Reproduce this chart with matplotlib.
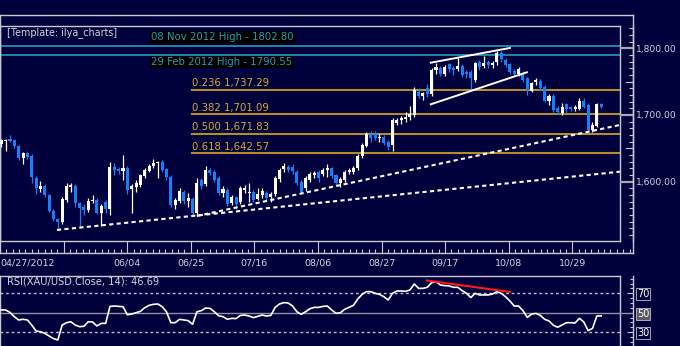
import matplotlib
matplotlib.use('Agg')
import matplotlib.pyplot as plt
import numpy as np

# Velas diarias XAU/USD, 27/04/2012 - 07/11/2012 (indice de barra = dia habil)
apertura = [1656, 1661, 1664, 1662, 1653.5, 1635, 1642.5, 1638.5, 1606, 1588.5,
            1593.5, 1580, 1556.5, 1544, 1539.5, 1572.5, 1592.5, 1593.5, 1568.5, 1562,
            1557.5, 1571, 1572.5, 1553.5, 1569, 1558.5, 1622.5, 1619, 1616.5, 1620,
            1588.5, 1591.5, 1595, 1609, 1616.5, 1623.5, 1627.5, 1629, 1618.5, 1607.5,
            1565, 1571, 1585, 1571.5, 1574, 1552.5, 1602, 1596.5, 1617.5, 1615,
            1606, 1582.5, 1587.5, 1567.5, 1577.5, 1570, 1587.5, 1582.5, 1585, 1574,
            1580, 1583.5, 1577.5, 1581.5, 1603.5, 1618.5, 1621.5, 1622.5, 1615, 1600,
            1590, 1602.5, 1610, 1615, 1611, 1617.5, 1620, 1610, 1597.5, 1602.5,
            1614, 1614, 1620, 1638, 1654, 1671, 1672.5, 1665, 1667.5, 1660,
            1655, 1687.5, 1692, 1694, 1697, 1700, 1735, 1728, 1740, 1731,
            1767.5, 1771, 1761, 1776, 1771, 1769, 1774, 1765, 1765, 1752.5,
            1780, 1773, 1779, 1775, 1779, 1792.5, 1782.5, 1776, 1766, 1761,
            1762.5, 1755, 1736, 1749, 1751, 1742.5, 1721, 1728.5, 1710, 1702.5,
            1716, 1712.5, 1709, 1709, 1721, 1715, 1677.5, 1684, 1716]
maximo = [1664, 1664, 1670, 1663, 1655, 1645, 1645, 1641, 1608, 1601,
          1597, 1582, 1559, 1546, 1577.5, 1597.5, 1598.5, 1596, 1570, 1566,
          1575, 1580, 1575, 1566, 1572, 1630, 1627.5, 1622, 1640, 1623,
          1596, 1602, 1612, 1620, 1627, 1633.5, 1631, 1632, 1620, 1610,
          1575, 1590, 1587, 1582.5, 1577, 1605, 1605, 1623.5, 1620, 1618,
          1608, 1593.5, 1590, 1580, 1579, 1593, 1595, 1597.5, 1587, 1590,
          1590, 1586, 1585, 1608, 1620, 1628.5, 1625, 1626, 1618, 1603,
          1608, 1614, 1616, 1617, 1620, 1626, 1622, 1612, 1607, 1617,
          1620, 1623, 1642, 1658, 1674, 1676, 1676, 1672, 1670, 1662,
          1695, 1695, 1699, 1704, 1714, 1742, 1740, 1735, 1746, 1771,
          1778, 1774, 1775, 1778, 1773, 1786, 1777, 1768, 1767, 1780,
          1783, 1789, 1782, 1781, 1796, 1795.5, 1785, 1778, 1769, 1772,
          1766, 1757, 1750, 1755, 1754, 1745, 1731, 1731, 1714, 1718,
          1718, 1714, 1715, 1725, 1725, 1718, 1689, 1718, 1718]
minimo = [1652, 1646, 1659, 1651, 1633, 1627, 1634, 1597.5, 1581, 1585,
          1577, 1554, 1541, 1527.5, 1537, 1570, 1585, 1562, 1532.5, 1550,
          1554, 1568, 1551, 1534, 1553, 1550, 1610, 1612, 1603, 1581,
          1553.5, 1585, 1592, 1606, 1614, 1620, 1605, 1615, 1603, 1562,
          1558.5, 1568, 1567, 1562.5, 1548, 1550, 1589, 1594, 1610, 1600,
          1580, 1577.5, 1564, 1565, 1558.5, 1567, 1582.5, 1570, 1570, 1572.5,
          1575, 1572, 1570, 1579, 1600, 1615, 1614, 1612, 1595, 1583,
          1586, 1600, 1605, 1600, 1608, 1607.5, 1606, 1595, 1592.5, 1600,
          1612, 1611, 1617, 1636, 1652, 1660, 1662, 1660, 1655, 1648,
          1646, 1685, 1686, 1690, 1692, 1697, 1726, 1723, 1727, 1728,
          1762, 1758, 1758, 1765, 1760, 1766, 1757, 1755, 1737.5, 1750,
          1768, 1770, 1770, 1770, 1775, 1780, 1772, 1762, 1758, 1758,
          1750, 1730, 1734, 1745, 1738, 1719, 1715, 1705, 1701, 1700,
          1703, 1706, 1706, 1707, 1710, 1675, 1675, 1682, 1710]
cierre = [1662, 1662, 1661, 1653.5, 1635, 1642.5, 1637.5, 1606.5, 1590, 1593.5,
          1580, 1556.5, 1543.5, 1540, 1574, 1593.5, 1595, 1568.5, 1560, 1557,
          1571.5, 1573, 1553.5, 1563.5, 1559, 1622.5, 1617.5, 1616.5, 1620, 1587.5,
          1593.5, 1597.5, 1610, 1617.5, 1624, 1627.5, 1629, 1617.5, 1606.5, 1565,
          1572.5, 1586, 1571.5, 1575, 1552.5, 1597.5, 1594, 1617.5, 1613.5, 1602.5,
          1582.5, 1588.5, 1566.5, 1576.5, 1566.5, 1590, 1590, 1585, 1572.5, 1581,
          1586, 1575, 1581.5, 1605, 1617.5, 1623.5, 1617.5, 1616.5, 1597.5, 1585,
          1605, 1611, 1613.5, 1605, 1617.5, 1620, 1609, 1597.5, 1604, 1615,
          1617.5, 1621, 1639, 1655, 1671, 1665, 1665, 1667.5, 1657.5, 1652.5,
          1692.5, 1692.5, 1695, 1697, 1702, 1737, 1728, 1733, 1731, 1768,
          1772.5, 1761, 1772.5, 1769, 1767.5, 1774, 1760, 1761, 1755, 1777.5,
          1772.5, 1777.5, 1775, 1777.5, 1792.5, 1784, 1775, 1764, 1761, 1769,
          1752.5, 1737.5, 1748.5, 1752.5, 1740, 1721, 1729, 1707.5, 1704, 1712.5,
          1709, 1709, 1712.5, 1721, 1712.5, 1677.5, 1685, 1716, 1712.5]

# RSI(14)
rsi = [52.8, 52.8, 50.3, 45.9, 42.5, 43.2, 42.5, 37.3, 31.1, 30.4,
       28.7, 26.0, 23.3, 21.9, 37.3, 39.7, 40.7, 37.3, 35.6, 36.0,
       40.7, 40.4, 36.3, 39.0, 39.0, 56.5, 56.9, 56.5, 56.2, 47.9,
       48.6, 50.0, 51.4, 55.2, 57.6, 58.6, 59.0, 56.2, 51.0, 39.7,
       39.7, 43.2, 42.5, 41.8, 38.0, 51.0, 52.1, 54.8, 54.5, 51.0,
       46.9, 45.9, 43.2, 44.2, 43.9, 47.2, 47.6, 46.6, 44.9, 46.2,
       47.6, 46.6, 47.2, 55.5, 59.0, 60.4, 60.0, 56.9, 51.0, 48.3,
       51.0, 54.1, 55.5, 55.5, 56.5, 56.9, 52.8, 49.4, 50.0, 53.5,
       55.5, 57.6, 64.1, 68.9, 71.7, 71.7, 70.0, 68.9, 66.5, 63.1,
       70.0, 72.4, 72.4, 72.0, 73.4, 79.6, 75.1, 75.1, 76.2, 81.0,
       82.0, 78.6, 77.9, 77.6, 76.2, 76.2, 72.8, 70.0, 65.6, 70.0,
       68.3, 68.3, 68.3, 69.3, 71.7, 70.0, 66.5, 62.1, 56.9, 56.9,
       52.1, 45.2, 48.6, 49.3, 47.2, 43.2, 41.5, 37.0, 35.0, 37.3,
       39.7, 39.7, 39.4, 44.2, 40.4, 31.5, 33.8, 46.6, 46.7]

fechas_idx = [11, 26, 41, 56, 71, 86, 101, 116, 131]
fechas_txt = ['', '06/04', '06/25', '07/16', '08/06', '08/27', '09/17', '10/08', '10/29']
primera_fecha = '04/27/2012'

fibo_niveles = [1737.29, 1701.09, 1671.83, 1642.57]
fibo_txt = ['0.236 1,737.29', '0.382 1,701.09', '0.500 1,671.83', '0.618 1,642.57']
fibo_inicio = 43.8

maximos_prev = [1802.80, 1790.55]
maximos_txt = ['08 Nov 2012 High - 1802.80', '29 Feb 2012 High - 1790.55']

# lineas de tendencia: (indices de barra, precios)
tend_a = ([12.8, 142.3], [1527.5, 1614.9])
tend_b = ([45.0, 142.3], [1548.5, 1685.0])
cuna_sup = ([98.8, 117.0], [1778.4, 1800.5])
cuna_inf = ([98.8, 120.9], [1716.0, 1764.0])
rsi_div = ([97.9, 117.0], [83.2, 71.4])

precio_ticks = [1600, 1700, 1800]
precio_txt = ['1,600.00', '1,700.00', '1,800.00']
precio_medios = [1650, 1750]
rsi_ticks = [30, 50, 70]
rsi_titulo = 'RSI(XAU/USD.Close, 14): 46.69'

fondo = '#00003c'
marco = '#c8c8d0'
azul = '#1a7ef5'
cian = '#2a9cb4'
oro = '#b48c28'
texto = '#d4d4dc'

W, H = 680, 346
fig = plt.figure(figsize=(W / 100, H / 100), dpi=100, facecolor=fondo)


def ejes(x0, y0, x1, y1, lados=()):
    a = fig.add_axes([x0 / W, 1 - y1 / H, (x1 - x0) / W, (y1 - y0) / H])
    a.set_facecolor('none')
    for nombre, s in a.spines.items():
        s.set_visible(nombre in lados)
        s.set_color(marco)
        s.set_linewidth(1.0)
    a.set_xticks([])
    a.set_yticks([])
    return a


x_lim = (-0.3, 142.33)
y_lim = (1510.95, 1833.45)

# marco exterior
ax_o = ejes(0, 15, 633, 253, ('top', 'right', 'left', 'bottom'))

# panel de precios
ax = ejes(0, 26, 620, 241, ('top', 'right', 'bottom', 'left'))
ax.set_xlim(*x_lim)
ax.set_ylim(*y_lim)

o = np.array(apertura)
h = np.array(maximo)
l = np.array(minimo)
c = np.array(cierre)
xs = np.arange(len(c))
colores = np.where(c >= o, 'white', azul)

ax.vlines(xs, l, h, colors=colores, lw=0.9, zorder=3)
ax.bar(xs, np.maximum(np.abs(c - o), 0.8), bottom=np.minimum(o, c), width=0.7,
       color=colores, linewidth=0, zorder=4)

for nivel, etiqueta, dy, va in zip(maximos_prev, maximos_txt, [4.3, -7.5], ['baseline', 'baseline']):
    ax.axhline(nivel, color=cian, lw=1.2, zorder=2)
    ax.annotate(etiqueta, xy=(34.5, nivel), xytext=(0, dy), textcoords='offset points',
                color=cian, fontsize=7.3, va=va, ha='left',
                bbox=dict(boxstyle='square,pad=0.12', fc='black', ec='none'))

for nivel, etiqueta in zip(fibo_niveles, fibo_txt):
    ax.plot([fibo_inicio, x_lim[1]], [nivel, nivel], color=oro, lw=1.5, zorder=2)
    ax.annotate(etiqueta, xy=(fibo_inicio, nivel), xytext=(0, 2.6), textcoords='offset points',
                color='#d8ac30', fontsize=7.3, va='baseline', ha='left')

for linea in (tend_a, tend_b):
    ax.plot(linea[0], linea[1], color='white', lw=1.5, ls=(0, (2.0, 1.6)), zorder=5)
for linea in (cuna_sup, cuna_inf):
    ax.plot(linea[0], linea[1], color='white', lw=1.4, zorder=5)

fig.text(7 / W, 1 - 35 / H, '[Template: ilya_charts]', color=texto, fontsize=6.9,
         va='baseline', ha='left')

# eje de fechas
ax_x = ejes(0, 241, 633, 253)
ax_x.set_xlim(-0.3, 145.32)
ax_x.set_xticks(fechas_idx)
ax_x.set_xticklabels(fechas_txt)
ax_x.set_xticks(np.arange(-4, 146, 1.5), minor=True)
ax_x.tick_params(which='major', direction='in', length=8.7, width=0.8, color=marco,
                 labelcolor=texto, labelsize=6.8, pad=4.3)
ax_x.tick_params(which='minor', direction='in', length=2.9, width=0.8, color=marco)
ax_x.annotate(primera_fecha, xy=(0, 0), xycoords='axes fraction', xytext=(0.3, -4.3),
              textcoords='offset points', ha='left', va='top', color=texto, fontsize=6.8)

# eje de precios
ax_r = ejes(620, 26, 633, 241, ('right',))
ax_r.set_ylim(*y_lim)
ax_r.yaxis.tick_right()
ax_r.set_yticks(precio_ticks)
ax_r.set_yticklabels(precio_txt)
ax_r.set_yticks(np.arange(1520, 1840, 10), minor=True)
ax_r.tick_params(which='major', direction='in', length=9.4, width=1.6, color='#a8a8b0',
                 labelcolor=texto, labelsize=6.6, pad=2.2)
ax_r.tick_params(which='minor', direction='in', length=2.9, width=0.8, color=marco)
for p in precio_medios:
    ax_r.plot([1 - 7 / 13, 1], [p, p], color=marco, lw=0.8, transform=ax_r.get_yaxis_transform())

# panel RSI
r_lim = (15.67, 87.84)
ax_rsi = ejes(0, 276, 620, 346, ('top', 'right', 'left'))
ax_rsi.set_xlim(*x_lim)
ax_rsi.set_ylim(*r_lim)
ax_rsi.axhline(70, color='#c0c0c8', lw=1.0, ls=(0, (2, 2)))
ax_rsi.axhline(30, color='#c0c0c8', lw=1.0, ls=(0, (2, 2)))
ax_rsi.axhline(50, color='#9090a0', lw=1.0)
ax_rsi.plot(xs, rsi, color='white', lw=1.2, zorder=3)
ax_rsi.plot(rsi_div[0], rsi_div[1], color='#ff1a1a', lw=1.5, zorder=4)
fig.text(7 / W, 1 - 285 / H, rsi_titulo, color=texto, fontsize=7.1, va='baseline', ha='left')

ax_rr = ejes(620, 276, 633, 346, ('right',))
ax_rr.set_ylim(*r_lim)
ax_rr.axhline(50, color='#9090a0', lw=1.0)
ax_rr.yaxis.tick_right()
ax_rr.set_yticks(rsi_ticks)
ax_rr.set_yticklabels([str(v) for v in rsi_ticks])
ax_rr.set_yticks(np.arange(20, 90, 5), minor=True)
ax_rr.tick_params(which='major', direction='in', length=4.5, width=0.8, color=marco,
                  labelcolor='white', labelsize=7, pad=2.8)
ax_rr.tick_params(which='minor', direction='in', length=2.5, width=0.8, color=marco)
for etiqueta in ax_rr.get_yticklabels():
    if etiqueta.get_text() == '50':
        etiqueta.set_bbox(dict(boxstyle='square,pad=0.12', fc='#5a5a60', ec='#c0c0c0', lw=0.6))
    else:
        etiqueta.set_bbox(dict(boxstyle='square,pad=0.12', fc=fondo, ec='#c0c0c0', lw=0.6))

fig.savefig('out.png', dpi=100, facecolor=fondo)
